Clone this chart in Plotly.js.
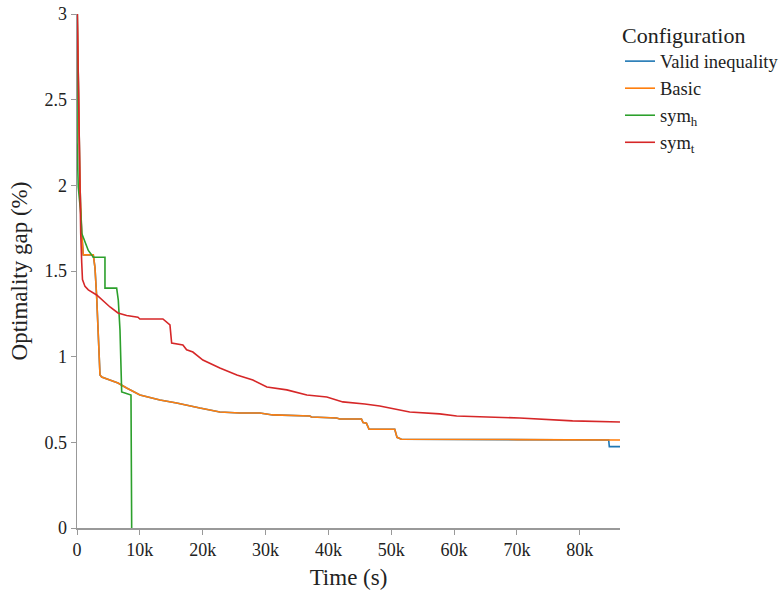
<!DOCTYPE html>
<html>
<head>
<meta charset="utf-8">
<script src="https://cdn.plot.ly/plotly-3.0.1.min.js"></script>
<style>html,body{margin:0;padding:0;background:#fff;}#chart{width:783px;height:593px;}</style>
</head>
<body>
<div id="chart"></div>
<script>
// Series names
const seriesNames = ["Valid inequality", "Basic", "sym<sub>h</sub>", "sym<sub>t</sub>"];
const seriesColors = ["#1f77b4", "#ff7f0e", "#2ca02c", "#d62728"];

// Valid inequality (time s, gap %)
const validTime = [50, 200, 480, 750, 1000, 2590, 2860, 3130, 3390, 3660, 3930, 5250, 6520, 7900, 10020, 13200, 15850, 19550, 22730, 25910, 29090, 31160, 37040, 37310, 41290, 41810, 45260, 45520, 46060, 46470, 50560, 50920, 51620, 84600, 84700, 86400];
const validGap  = [3.0, 2.62, 1.99, 1.72, 1.594, 1.594, 1.52, 1.35, 1.156, 0.893, 0.881, 0.864, 0.846, 0.817, 0.776, 0.747, 0.73, 0.70, 0.677, 0.671, 0.671, 0.66, 0.654, 0.648, 0.642, 0.636, 0.636, 0.615, 0.611, 0.576, 0.576, 0.529, 0.518, 0.514, 0.475, 0.475];

// Basic
const basicTime = [50, 200, 480, 750, 1000, 2590, 2860, 3130, 3390, 3660, 3930, 5250, 6520, 7900, 10020, 13200, 15850, 19550, 22730, 25910, 29090, 31160, 37040, 37310, 41290, 41810, 45260, 45520, 46060, 46470, 50560, 50920, 51620, 70000, 86400];
const basicGap  = [3.0, 2.62, 1.99, 1.72, 1.594, 1.594, 1.52, 1.35, 1.156, 0.893, 0.881, 0.864, 0.846, 0.817, 0.776, 0.747, 0.73, 0.70, 0.677, 0.671, 0.671, 0.66, 0.654, 0.648, 0.642, 0.636, 0.636, 0.615, 0.611, 0.576, 0.576, 0.529, 0.518, 0.516, 0.514];

// sym_h
const symhTime = [0, 20, 200, 590, 750, 1270, 1800, 2340, 2590, 4450, 4450, 6310, 6570, 6840, 7000, 7110, 7630, 8430, 8590, 8700];
const symhGap  = [3.0, 2.25, 1.99, 1.84, 1.72, 1.67, 1.62, 1.594, 1.58, 1.58, 1.40, 1.40, 1.33, 1.156, 0.88, 0.794, 0.788, 0.776, 0.776, 0.0];

// sym_t
const symtTime = [50, 200, 480, 590, 750, 870, 1270, 1800, 3130, 5250, 6520, 7900, 9700, 10000, 13670, 14790, 15060, 16850, 17440, 18440, 20030, 22730, 25440, 27980, 30210, 33390, 36570, 39750, 42290, 44990, 45790, 48170, 50240, 52940, 57710, 60410, 70430, 78850, 86400];
const symtGap  = [3.0, 2.62, 1.99, 1.72, 1.55, 1.45, 1.41, 1.39, 1.36, 1.29, 1.255, 1.24, 1.23, 1.22, 1.22, 1.185, 1.08, 1.068, 1.04, 1.027, 0.98, 0.934, 0.893, 0.864, 0.823, 0.806, 0.776, 0.765, 0.736, 0.73, 0.724, 0.712, 0.695, 0.677, 0.666, 0.654, 0.642, 0.625, 0.619];

const xTickVals = [0, 10000, 20000, 30000, 40000, 50000, 60000, 70000, 80000];
const xTickText = ["0", "10k", "20k", "30k", "40k", "50k", "60k", "70k", "80k"];
const yTickVals = [0, 0.5, 1, 1.5, 2, 2.5, 3];
const yTickText = ["0", "0.5", "1", "1.5", "2", "2.5", "3"];

const xs = [validTime, basicTime, symhTime, symtTime];
const ys = [validGap, basicGap, symhGap, symtGap];

const traces = xs.map((x, i) => ({
  x: x, y: ys[i], type: "scatter", mode: "lines",
  name: seriesNames[i],
  line: {color: seriesColors[i], width: 1.6, shape: "linear"}
}));

const serif = "Liberation Serif, Times New Roman, serif";
const layout = {
  width: 783, height: 593,
  margin: {l: 77, r: 163, t: 14, b: 65, autoexpand: false},
  paper_bgcolor: "#fff", plot_bgcolor: "#fff",
  font: {family: serif, color: "#222", size: 18},
  showlegend: true,
  legend: {
    x: 1.0, xanchor: "left", y: 1.0, yanchor: "top",
    title: {text: "Configuration", font: {size: 22, family: serif, color: "#222"}},
    font: {size: 18.5, family: serif, color: "#222"},
    tracegroupgap: 0, itemwidth: 30
  },
  xaxis: {
    range: [0, 86400], tickvals: xTickVals, ticktext: xTickText,
    showgrid: false, zeroline: false, showline: true, linecolor: "#999", linewidth: 1.5,
    ticks: "outside", ticklen: 5, tickcolor: "#999",
    tickfont: {size: 18, family: serif, color: "#222"},
    title: {text: "Time (s)", font: {size: 23, family: serif, color: "#222"}, standoff: 10}
  },
  yaxis: {
    range: [0, 3], tickvals: yTickVals, ticktext: yTickText,
    showgrid: false, zeroline: false, showline: true, linecolor: "#999", linewidth: 1.5,
    ticks: "outside", ticklen: 5, tickcolor: "#999",
    tickfont: {size: 18, family: serif, color: "#222"},
    title: {text: "Optimality gap (%)", font: {size: 23, family: serif, color: "#222"}, standoff: 10}
  }
};
Plotly.newPlot("chart", traces, layout, {displayModeBar: false, staticPlot: true});
</script>
</body>
</html>
